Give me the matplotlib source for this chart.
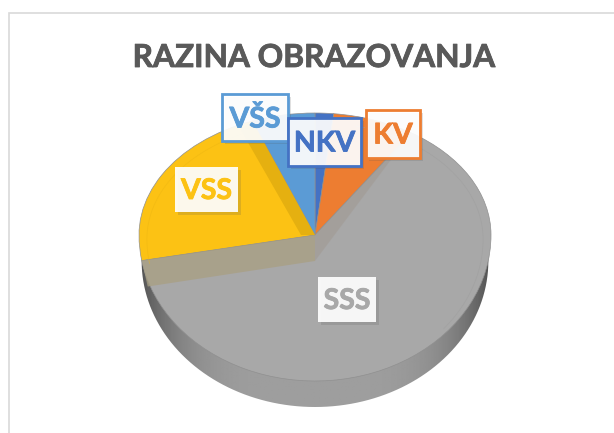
import numpy as np
import matplotlib
matplotlib.use('Agg')
import matplotlib.pyplot as plt
import matplotlib.patheffects as pe
from matplotlib.patches import PathPatch, Rectangle
from matplotlib.path import Path
from matplotlib.transforms import Transform

plt.rcParams['font.family'] = ['Lato', 'DejaVu Sans']

# Data (shares, in percent)
labels = ['NKV', 'KV', 'SSS', 'VSS', 'VŠS']
shares = [1.7, 7.5, 63.0, 22.0, 5.8]
colors = ['#4472C4', '#ED7D31', '#A8A8A8', '#FCC214', '#5B9BD5']
title = 'RAZINA OBRAZOVANJA'

# label boxes: centre x, centre y, width, height
label_boxes = {'VSS': (206.5, 189.5, 63, 45), 'SSS': (347, 299.5, 58, 45),
               'VŠS': (255, 117.5, 66, 47), 'KV': (393, 134, 54, 48),
               'NKV': (324.5, 142, 73, 48)}

# pie geometry in pixels
cx, cy = 315, 235
rx = 176
up, down = 122 / rx, 146 / rx
depth = 26


class Tilt(Transform):
    # the top of the pie is flatter than the bottom, like the perspective in the original
    input_dims = 2
    output_dims = 2

    def transform_non_affine(self, values):
        v = np.array(values, dtype=float)
        v[:, 0] = cx + v[:, 0]
        v[:, 1] = cy - v[:, 1] * np.where(v[:, 1] > 0, up, down)
        return v

    def transform_path_non_affine(self, path):
        poly = path.to_polygons(closed_only=False)[0]
        return Path(self.transform_non_affine(poly))


def rim(angle_deg, scale=1.0):
    a = np.radians(90 - np.asarray(angle_deg, dtype=float))
    v = np.column_stack([scale * rx * np.cos(a), scale * rx * np.sin(a)])
    return Tilt().transform_non_affine(v)


fig = plt.figure(figsize=(6.14, 4.33), dpi=100)
ax = fig.add_axes([0, 0, 1, 1])

# top surface
angles = np.cumsum([0] + shares) / sum(shares) * 360
wedges, _ = ax.pie(shares, colors=colors, startangle=90, counterclock=False, radius=rx,
                   center=(0, 0), wedgeprops=dict(lw=0.5, ec='#909090', zorder=2))
ax.set_aspect('auto')
ax.set_xlim(0, 614)
ax.set_ylim(433, 0)
ax.axis('off')
for w in wedges:
    w.set_transform(Tilt() + ax.transData)
    w.set_clip_on(False)

# chart frame
ax.add_patch(Rectangle((9, 12.5), 700, 500, fc='white', ec='#D9D9D9', lw=1.2, zorder=0))

# side wall, a horizontal gradient clipped to the lower rim
t = np.linspace(0, 360, 361)
wall = rim(t)
wall[:, 1] += depth
wall[:, 0] = cx + (wall[:, 0] - cx) * 0.985
clip = PathPatch(Path(wall), transform=ax.transData, fc='none', ec='none')
ax.add_patch(clip)
x = np.linspace(-1, 1, 300)
shade = 0.62 - 0.30 * np.abs(x) ** 4
img = ax.imshow(np.tile(shade, (2, 1)), cmap='gray', vmin=0, vmax=1, aspect='auto',
                extent=(cx - rx, cx + rx, 433, 0), zorder=1)
img.set_clip_path(clip)
ax.set_xlim(0, 614)
ax.set_ylim(433, 0)

apex = np.array([cx, cy])

# walls of the cut out slices, seen through the gray one
p = rim([angles[3]])[0]
ax.fill([apex[0], p[0], p[0] + 6, apex[0]],
        [apex[1], p[1], p[1] + depth, apex[1] + depth],
        color='#A89F82', alpha=0.75, lw=0, zorder=3)
p = rim([angles[2]])[0]
ax.fill([apex[0], p[0], apex[0]], [apex[1], p[1], apex[1] + depth],
        color='#A09890', alpha=0.5, lw=0, zorder=3)

# darker wall inside the yellow slice
p = rim([angles[4]])[0]
ax.fill([apex[0], p[0], p[0] - 12, apex[0] - 14], [apex[1], p[1], p[1] + 8, apex[1]],
        color='#E5B010', lw=0, zorder=3)

# faint inner ring
for a0, a1, col in [(angles[3], angles[4], '#EDB612'), (angles[1] + 8, 130, '#9E9E9E')]:
    ring = rim(np.linspace(a0, a1, 80), 0.955)
    ax.plot(ring[:, 0], ring[:, 1] + 4, color=col, lw=0.5, alpha=0.6, zorder=3)

# labels
for i, name in enumerate(label_boxes):
    col = colors[labels.index(name)]
    bx, by, bw, bh = label_boxes[name]
    z = 6 + i
    ax.add_patch(Rectangle((bx - bw / 2 + 3, by - bh / 2 + 3), bw, bh, fc='#555555', alpha=0.18, lw=0, zorder=z))
    framed = name in ('NKV', 'KV', 'VŠS')
    ax.add_patch(Rectangle((bx - bw / 2, by - bh / 2), bw, bh, fc='#FFFFFF', alpha=0.92, lw=0, zorder=z))
    ax.add_patch(Rectangle((bx - bw / 2, by - bh / 2), bw, bh, fc='none', ec=col, lw=2 if framed else 0, zorder=z))
    ax.text(bx, by + 1.5, name, color=col, fontsize=20.5, fontweight='bold', ha='center', va='center', zorder=z,
            path_effects=[pe.withStroke(linewidth=0.6, foreground=col)])

ax.text(313.5, 57.5, title, color='#595959', fontsize=22.8, fontweight='bold', ha='center', va='center',
        path_effects=[pe.withStroke(linewidth=0.6, foreground='#595959')])

fig.savefig('out.png', dpi=100)
